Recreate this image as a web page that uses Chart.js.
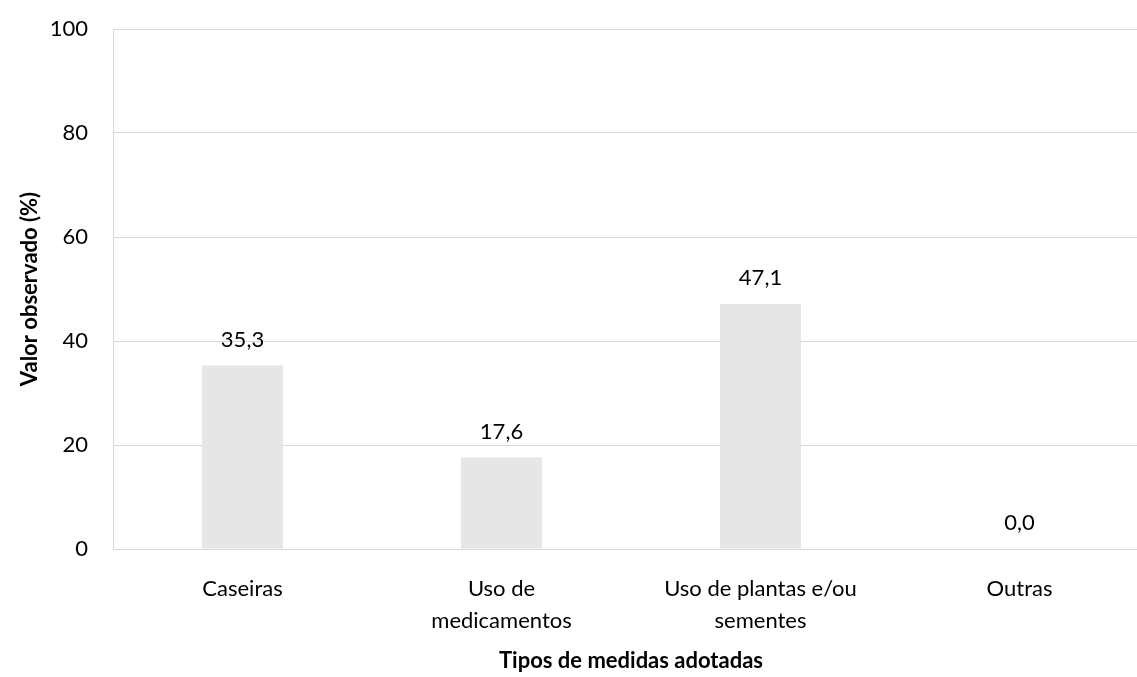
<!DOCTYPE html>
<html>
<head>
<meta charset="utf-8">
<script src="https://cdn.jsdelivr.net/npm/chart.js@4"></script>
<style>
    html, body { margin: 0; padding: 0; background: #fff; overflow: hidden; }
    #wrap { width: 1150px; height: 677px; position: relative; }
</style>
</head>
<body>
<div id="wrap"><canvas id="chart"></canvas></div>
<script>
//Chart data
const categories = ["Caseiras", ["Uso de", "medicamentos"], ["Uso de plantas e/ou", "sementes"], "Outras"];
const values = [35.3, 17.6, 47.1, 0.0];
const yTicks = [0, 20, 40, 60, 80, 100];

const FONT = "Lato, 'Open Sans', sans-serif";

//Plugin draws the value above each bar, with comma decimals
const valueLabels = {
    id: "valueLabels",
    afterDatasetsDraw: (chart) => {
        const c = chart.ctx;
        const meta = chart.getDatasetMeta(0);
        c.save();
        c.font = "22px " + FONT;
        c.fillStyle = "#000";
        c.textAlign = "center";
        c.textBaseline = "middle";
        meta.data.forEach((bar, i) => {
            c.fillText(values[i].toFixed(1).replace(".", ","), bar.x, bar.y - 26);
        });
        c.restore();
    },
};

const initChart = (id) => {
    const ctx = document.getElementById(id);
    return new Chart(ctx, {
        type: "bar",
        data: {
            labels: categories,
            datasets: [
                {
                    data: values,
                    backgroundColor: "#e6e6e6",
                    barPercentage: 0.313,
                    categoryPercentage: 1,
                },
            ],
        },
        options: {
            responsive: true,
            maintainAspectRatio: false,
            animation: false,
            layout: { padding: { top: 29, right: 1, left: 1, bottom: 0 } },
            plugins: {
                legend: { display: false },
                tooltip: { enabled: false },
            },
            scales: {
                x: {
                    //fixed height so the plot bottom sits where the reference has it
                    afterFit: (axis) => {
                        axis.height = 128;
                    },
                    grid: { display: false, drawTicks: false },
                    border: { display: true, color: "#d9d9d9" },
                    ticks: {
                        color: "#000",
                        font: { family: FONT, size: 22, lineHeight: 1.45 },
                        padding: 24,
                        maxRotation: 0,
                        autoSkip: false,
                    },
                    title: {
                        display: true,
                        text: "Tipos de medidas adotadas",
                        color: "#000",
                        font: { family: FONT, size: 22, weight: "bold", lineHeight: 1.0 },
                        padding: { top: 0, bottom: 5 },
                    },
                },
                y: {
                    min: 0,
                    max: 100,
                    afterBuildTicks: (axis) => {
                        axis.ticks = yTicks.map((v) => ({ value: v }));
                    },
                    //tick padding would otherwise push the plot top down
                    afterFit: (axis) => {
                        axis.paddingTop = 0;
                        axis.paddingBottom = 0;
                        axis.width = 112;
                    },
                    grid: { color: "#d9d9d9", drawTicks: false },
                    border: { display: true, color: "#d9d9d9" },
                    ticks: {
                        color: "#000",
                        font: { family: FONT, size: 22 },
                        padding: 25,
                    },
                    title: {
                        display: true,
                        text: "Valor observado (%)",
                        color: "#000",
                        font: { family: FONT, size: 22, weight: "bold" },
                        padding: { top: 16, bottom: 0 },
                    },
                },
            },
        },
        plugins: [valueLabels],
    });
};

const chart = initChart("chart");
</script>
</body>
</html>
